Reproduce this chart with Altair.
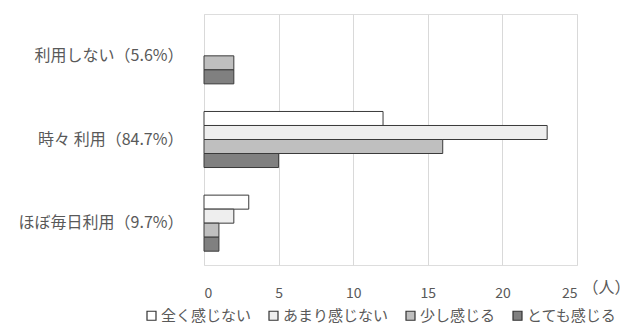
import altair as alt
import pandas as pd

# Survey groups (rows) and answer categories (series)
categories = ["利用しない（5.6%）", "時々 利用（84.7%）", "ほぼ毎日利用（9.7%）"]
series = ["全く感じない", "あまり感じない", "少し感じる", "とても感じる"]

# Number of people per group, in series order
never_used = [0, 0, 2, 2]
sometimes = [12, 23, 16, 5]
almost_daily = [3, 2, 1, 1]

x_ticks = [0, 5, 10, 15, 20, 25]
fill_colors = ["#FFFFFF", "#EEEEEE", "#BFBFBF", "#808080"]

rows = []
for cat, vals in zip(categories, [never_used, sometimes, almost_daily]):
    for s, v in zip(series, vals):
        rows.append({"category": cat, "series": s, "value": v})
df = pd.DataFrame(rows)

FONT = "Noto Sans CJK JP"
TEXT = "#595959"

chart = (
    alt.Chart(df)
    .transform_filter("datum.value > 0")
    .mark_bar(stroke="#3a3a3a", strokeWidth=1)
    .encode(
        y=alt.Y(
            "category:N",
            sort=categories,
            scale=alt.Scale(domain=categories, paddingInner=0.33, paddingOuter=0.165),
            axis=alt.Axis(
                title=None,
                ticks=False,
                domain=False,
                grid=False,
                labelFontSize=16,
                labelColor=TEXT,
                labelPadding=21,
                labelFont=FONT,
            ),
        ),
        yOffset=alt.YOffset("series:N", sort=series, scale=alt.Scale(domain=series)),
        x=alt.X(
            "value:Q",
            scale=alt.Scale(domain=[0, 25], nice=False),
            axis=alt.Axis(
                values=x_ticks,
                grid=True,
                gridColor="#D9D9D9",
                gridWidth=1,
                domain=False,
                ticks=False,
                labelPadding=21,
                labelFontSize=14,
                labelColor=TEXT,
                labelFont=FONT,
                title="（人）",
                titleFont=FONT,
                titleFontSize=16,
                titleFontWeight="normal",
                titleColor=TEXT,
                titleX=378,
                titleY=22,
                titleAlign="left",
                titleBaseline="middle",
            ),
        ),
        color=alt.Color(
            "series:N",
            sort=series,
            scale=alt.Scale(domain=series, range=fill_colors),
            legend=alt.Legend(
                title=None,
                orient="none",
                direction="horizontal",
                legendX=-60,
                legendY=294,
                symbolType="square",
                symbolSize=81,
                symbolStrokeColor="#333333",
                symbolStrokeWidth=1.2,
                labelFont=FONT,
                labelFontSize=15,
                labelColor=TEXT,
                labelOffset=2,
                columnPadding=14,
            ),
        ),
    )
    .properties(
        width=373,
        height=251,
        autosize=alt.AutoSizeParams(type="none"),
        padding={"left": 204, "top": 14, "right": 60, "bottom": 59},
    )
    .configure_view(strokeWidth=0)
    .configure(font=FONT)
)

chart.save("out.html", embed_options={"renderer": "svg", "actions": False})
